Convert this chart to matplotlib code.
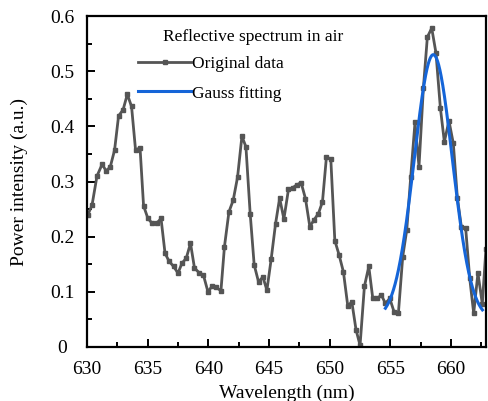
import matplotlib
matplotlib.use("Agg")
import matplotlib.pyplot as plt
import numpy as np

# Original data (wavelength nm, power a.u.)
wavelength = [630.05, 630.41, 630.82, 631.24, 631.59, 631.92, 632.27, 632.60, 632.97, 633.32,
              633.67, 634.00, 634.37, 634.66, 635.02, 635.38, 635.73, 636.10, 636.43, 636.75,
              637.13, 637.50, 637.83, 638.18, 638.53, 638.86, 639.23, 639.60, 639.97, 640.30,
              640.65, 641.04, 641.33, 641.70, 642.05, 642.41, 642.77, 643.10, 643.45, 643.78,
              644.14, 644.50, 644.83, 645.18, 645.54, 645.88, 646.23, 646.61, 646.97, 647.30,
              647.65, 648.01, 648.37, 648.70, 649.08, 649.41, 649.74, 650.10, 650.43, 650.78,
              651.14, 651.50, 651.83, 652.18, 652.51, 652.87, 653.23, 653.56, 653.91, 654.27,
              654.60, 654.96, 655.31, 655.67, 656.03, 656.36, 656.69, 657.04, 657.37, 657.73,
              658.06, 658.42, 658.77, 659.13, 659.46, 659.84, 660.20, 660.53, 660.86, 661.22,
              661.55, 661.88, 662.23, 662.59, 662.89]
power = [0.239, 0.257, 0.310, 0.331, 0.319, 0.327, 0.357, 0.419, 0.430, 0.458,
         0.436, 0.357, 0.361, 0.256, 0.233, 0.224, 0.224, 0.233, 0.170, 0.156,
         0.146, 0.134, 0.152, 0.161, 0.188, 0.143, 0.135, 0.130, 0.100, 0.110,
         0.108, 0.102, 0.182, 0.245, 0.266, 0.308, 0.382, 0.363, 0.242, 0.149,
         0.118, 0.127, 0.103, 0.159, 0.223, 0.270, 0.232, 0.286, 0.289, 0.294,
         0.298, 0.269, 0.218, 0.230, 0.242, 0.263, 0.345, 0.340, 0.193, 0.167,
         0.136, 0.074, 0.082, 0.031, 0.003, 0.110, 0.146, 0.088, 0.088, 0.094,
         0.079, 0.088, 0.064, 0.061, 0.164, 0.212, 0.309, 0.407, 0.327, 0.469,
         0.562, 0.578, 0.533, 0.434, 0.372, 0.410, 0.369, 0.271, 0.218, 0.215,
         0.125, 0.061, 0.134, 0.078, 0.178]

# Gauss fit parameters
fit_y0 = 0.05
fit_A = 0.48
fit_xc = 658.55
fit_sigma = 1.57
fit_range = (654.6, 662.6)

xticks = [630, 635, 640, 645, 650, 655, 660]
yticks = [0, 0.1, 0.2, 0.3, 0.4, 0.5, 0.6]
ytick_labels = ["0", "0.1", "0.2", "0.3", "0.4", "0.5", "0.6"]

plt.rcParams['font.family'] = ['Liberation Serif', 'DejaVu Serif']
fs = 14
fs_leg = 12.5

fig = plt.figure(figsize=(4.89, 4.01), dpi=100)
ax = fig.add_axes([0.178, 0.1347, 0.816, 0.8253])

gray = '#555555'
blue = '#1565d8'
ax.plot(wavelength, power, color=gray, lw=2.0, marker='s', ms=2.6,
        mfc=gray, mec=gray, label='Original data', zorder=2)

xf = np.linspace(fit_range[0], fit_range[1], 300)
yf = fit_y0 + fit_A * np.exp(-(xf - fit_xc) ** 2 / (2 * fit_sigma ** 2))
ax.plot(xf, yf, color=blue, lw=2.2, label='Gauss fitting', zorder=3)

ax.set_xlim(630, 662.9)
ax.set_ylim(0, 0.6)
ax.set_xticks(xticks)
ax.set_xticks(np.arange(632.5, 663, 5), minor=True)
ax.set_yticks(yticks)
ax.set_yticklabels(ytick_labels)
ax.set_yticks(np.arange(0.05, 0.6, 0.1), minor=True)

ax.tick_params(which='both', direction='in', top=False, right=False, labelsize=fs, width=1.4, color='black')
ax.tick_params(which='major', length=5.8)
ax.tick_params(which='minor', length=3.6)
ax.tick_params(axis='x', which='major', pad=10)
ax.tick_params(axis='y', which='major', pad=17.6)
for lab in ax.get_yticklabels():
    lab.set_horizontalalignment('center')
for s in ax.spines.values():
    s.set_linewidth(1.6)

ax.set_xlabel('Wavelength (nm)', fontsize=fs, labelpad=5)
ax.set_ylabel('Power intensity (a.u.)', fontsize=fs)
ax.yaxis.set_label_coords(-0.148, 0.5)

leg = ax.legend(loc='center left', bbox_to_anchor=(0.128, 0.811), frameon=False,
                fontsize=fs_leg, handlelength=3.05, handletextpad=0.05, labelspacing=0.78,
                borderpad=0, borderaxespad=0, markerscale=1.0)
ax.text(0.416, 0.938, 'Reflective spectrum in air', transform=ax.transAxes,
        ha='center', va='center', fontsize=fs_leg)

fig.savefig('out.png', dpi=100)
